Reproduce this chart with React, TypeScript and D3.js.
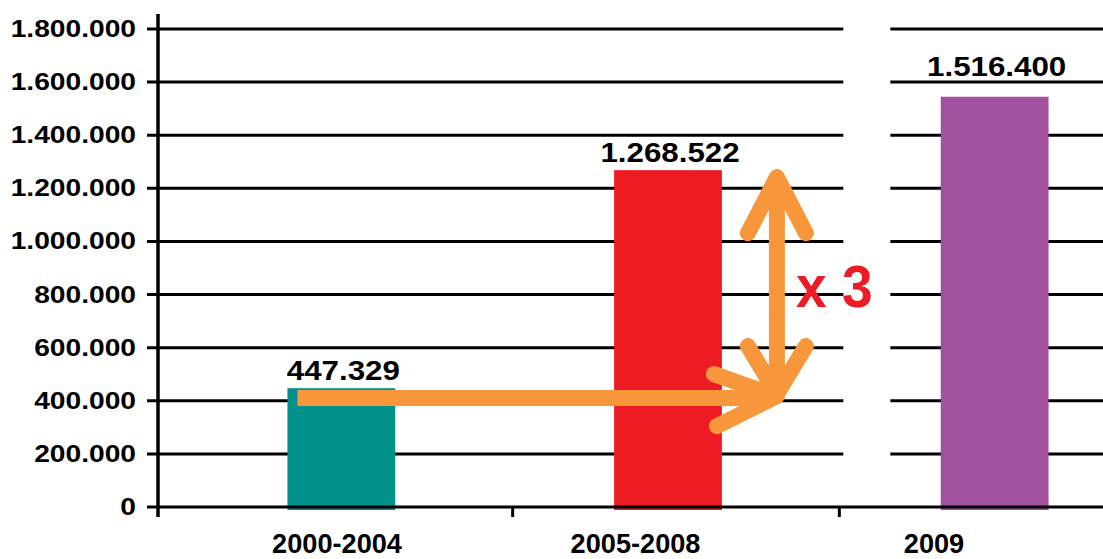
import React from "react";
import { scaleBand, scaleLinear, scalePoint } from "d3";

const categories = ["2000-2004", "2005-2008", "2009"];
const barValues = [447329, 1268522, 1545000];
const valueLabels = ["447.329", "1.268.522", "1.516.400"];
const barColors = ["#00918A", "#ED1C24", "#A3519E"];
const yTicks = [0, 200000, 400000, 600000, 800000, 1000000, 1200000, 1400000, 1600000, 1800000];
const arrowLevel = 410000;
const arrowTop = 1268522;
const factorLabel = "x 3";

const W = 1103;
const H = 559;
const FONT = "'Liberation Sans', Arial, Helvetica, sans-serif";
const ORANGE = "#F7963A";

// thousands with a dot, like the original
const fmt = (v: number) => (v === 0 ? "0" : v.toLocaleString("de-DE"));

const App = () => {
  const axisX = 158;
  const y = scaleLinear().domain([0, 1800000]).range([507, 29]);
  const x = scaleBand<string>()
    .domain(categories)
    .range([178, 1158])
    .paddingInner(0.67)
    .paddingOuter(0.335);
  const labelX = scalePoint<string>().domain(categories).range([337, 934]);
  const bw = x.bandwidth();
  const centre = (c: string) => (x(c) as number) + bw / 2;

  // x-axis ticks between bars
  const xTicks = categories.slice(1).map((c, i) => (centre(categories[i]) + centre(c)) / 2 + 8);

  // arrow geometry from the data
  const yl = y(arrowLevel);
  const hStart = (x(categories[0]) as number) + 10;
  const tipX = (x(categories[1]) as number) + bw + 55;
  const yTop = y(arrowTop) + 3;

  // white gap in grid behind the factor text
  const gapL = xTicks[1] + 4;
  const gapR = gapL + 47;

  return (
    <svg
      width={W}
      height={H}
      style={{ position: "absolute", left: 0, top: 0, background: "#fff" }}
    >
      <rect width={W} height={H} fill="#fff" />
      {/* grid lines */}
      {yTicks.slice(1).map((t) => (
        <line key={t} x1={axisX - 11} x2={W} y1={y(t)} y2={y(t)} stroke="#000" strokeWidth={3} />
      ))}
      <rect x={gapL} y={0} width={gapR - gapL} height={y(100000)} fill="#fff" />
      {/* bars */}
      {categories.map((c, i) => (
        <rect
          key={c}
          x={x(c)}
          y={y(barValues[i])}
          width={bw}
          height={y(0) - y(barValues[i]) + 3}
          fill={barColors[i]}
        />
      ))}
      {/* axes */}
      <line x1={axisX - 11} x2={W} y1={y(0)} y2={y(0)} stroke="#000" strokeWidth={3} />
      <line x1={axisX} x2={axisX} y1={14} y2={y(0) + 10} stroke="#000" strokeWidth={3.5} />
      {xTicks.map((t) => (
        <line key={t} x1={t} x2={t} y1={y(0)} y2={y(0) + 10} stroke="#000" strokeWidth={3} />
      ))}
      {/* y labels */}
      {yTicks.map((t) => (
        <text
          key={t}
          transform={`translate(136,${y(t) + 8}) scale(1.2,1)`}
          textAnchor="end"
          fontFamily={FONT}
          fontWeight="bold"
          fontSize={23.5}
          fill="#000"
        >
          {fmt(t)}
        </text>
      ))}
      {/* category labels */}
      {categories.map((c) => (
        <text
          key={c}
          transform={`translate(${labelX(c)},553) scale(0.97,1)`}
          textAnchor="middle"
          fontFamily={FONT}
          fontWeight="bold"
          fontSize={28}
          fill="#000"
        >
          {c}
        </text>
      ))}
      {/* value labels */}
      {categories.map((c, i) => (
        <text
          key={c}
          transform={`translate(${centre(c) + 2},${y(barValues[i]) - (i === 2 ? 21 : 8)}) scale(1.16,1)`}
          textAnchor="middle"
          fontFamily={FONT}
          fontWeight="bold"
          fontSize={27}
          fill="#000"
        >
          {valueLabels[i]}
        </text>
      ))}
      {/* arrows */}
      <g stroke={ORANGE} strokeWidth={16} fill="none" strokeLinejoin="round">
        <line x1={hStart} x2={tipX - 14} y1={yl} y2={yl} strokeLinecap="butt" />
        <polyline
          points={`${tipX - 63},${yl - 24} ${tipX},${yl - 2} ${tipX - 60},${yl + 28}`}
          strokeLinecap="round"
        />
        <line x1={tipX} x2={tipX} y1={yTop + 14} y2={yl - 6} strokeLinecap="butt" />
        <polyline
          points={`${tipX - 29},${yTop + 60} ${tipX},${yTop + 4} ${tipX + 29},${yTop + 60}`}
          strokeLinecap="round"
        />
        <polyline
          points={`${tipX - 29},${yl - 52} ${tipX},${yl - 4} ${tipX + 29},${yl - 52}`}
          strokeLinecap="round"
        />
      </g>
      <text
        transform={`translate(${tipX + 19},307) scale(0.92,1)`}
        fontFamily={FONT}
        fontWeight="bold"
        fontSize={60}
        fill="#ED1C24"
      >
        {factorLabel}
      </text>
    </svg>
  );
};

export default App;
